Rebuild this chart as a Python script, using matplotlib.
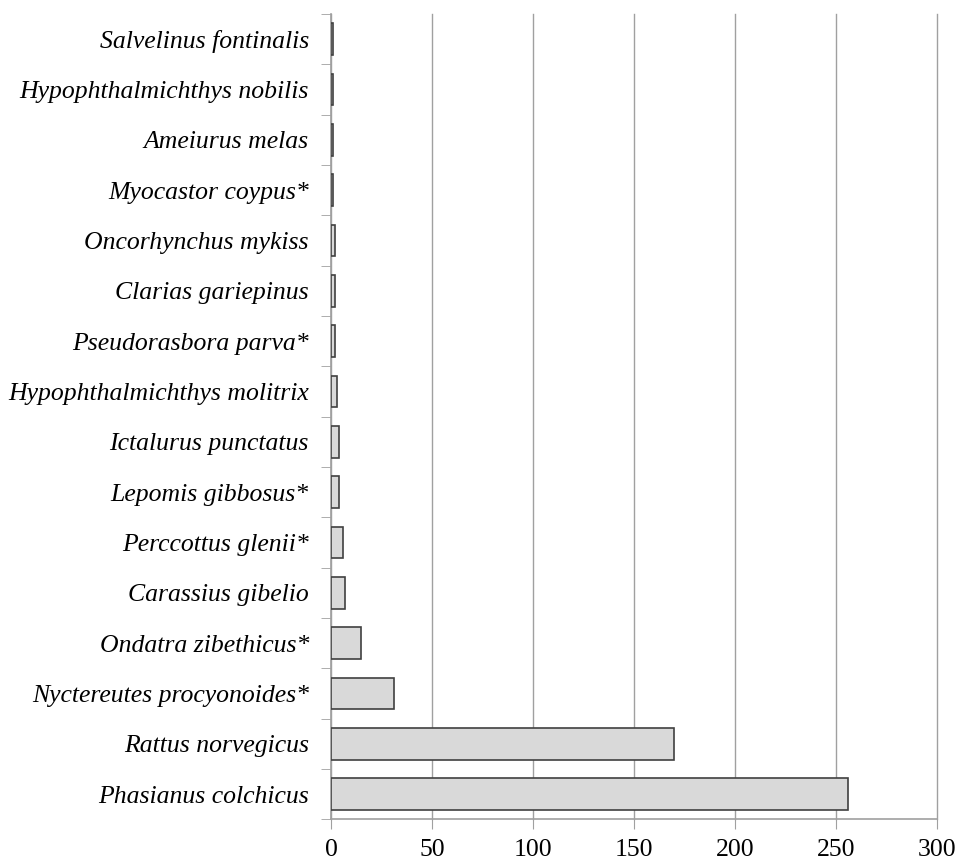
import numpy as np
import matplotlib
matplotlib.use("Agg")
import matplotlib.pyplot as plt

species = ["Salvelinus fontinalis", "Hypophthalmichthys nobilis", "Ameiurus melas",
           "Myocastor coypus*", "Oncorhynchus mykiss", "Clarias gariepinus",
           "Pseudorasbora parva*", "Hypophthalmichthys molitrix", "Ictalurus punctatus",
           "Lepomis gibbosus*", "Perccottus glenii*", "Carassius gibelio",
           "Ondatra zibethicus*", "Nyctereutes procyonoides*", "Rattus norvegicus",
           "Phasianus colchicus"]
counts = [1, 1, 1, 1, 2, 2, 2, 3, 4, 4, 6, 7, 15, 31, 170, 256]
xticks = [0, 50, 100, 150, 200, 250, 300]

plt.rcParams['font.family'] = ['Liberation Serif', 'DejaVu Serif']

fig = plt.figure(figsize=(9.57, 8.66), dpi=100)
ax = fig.add_axes([0.346, 0.054, 0.633, 0.930])

y = np.arange(len(species))[::-1]
ax.barh(y, counts, height=0.63, color="#d9d9d9", edgecolor="#404040", linewidth=1.2, zorder=3)

ax.set_xlim(0, 300)
ax.set_ylim(-0.5, len(species) - 0.5)
ax.set_xticks(xticks)
ax.set_xticklabels([str(t) for t in xticks], fontsize=18.5)
ax.xaxis.grid(True, color="#a0a0a0", linewidth=1, zorder=0)
for gl in ax.get_xgridlines():
    gl.set_clip_on(False)

ax.set_yticks(y)
ax.set_yticklabels(species, fontsize=18.5, style="italic")
ax.set_yticks(np.arange(-0.5, len(species)), minor=True)
ax.tick_params(axis="y", which="major", length=0, pad=16)
ax.tick_params(axis="y", which="minor", length=7, color="#a0a0a0")
ax.tick_params(axis="x", length=7, color="#a0a0a0", pad=7)

for s in ["top", "right"]:
    ax.spines[s].set_visible(False)
for s in ["left", "bottom"]:
    ax.spines[s].set_color("#a0a0a0")
    ax.spines[s].set_linewidth(1.2)

fig.savefig("out.png", dpi=100)
